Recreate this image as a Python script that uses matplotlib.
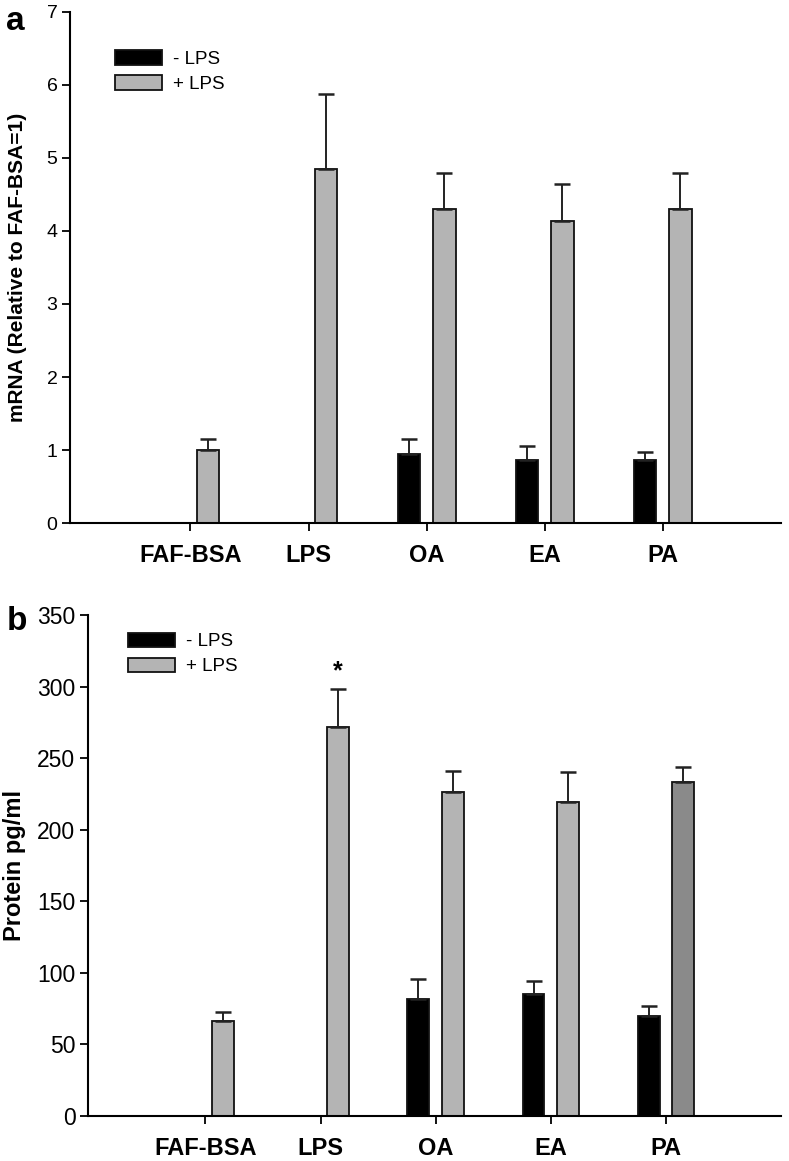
import numpy as np
import matplotlib.pyplot as plt

plt.rcParams['font.family'] = ['Liberation Sans', 'DejaVu Sans']

categories = ["FAF-BSA", "LPS", "OA", "EA", "PA"]

# panel a: mRNA relative to FAF-BSA
mrna_neg = [np.nan, np.nan, 0.95, 0.86, 0.86]
mrna_neg_err = [0, 0, 0.20, 0.19, 0.11]
mrna_pos = [1.00, 4.85, 4.30, 4.13, 4.30]
mrna_pos_err = [0.15, 1.02, 0.50, 0.52, 0.50]

# panel b: protein pg/ml
prot_neg = [np.nan, np.nan, 82, 85, 70]
prot_neg_err = [0, 0, 13.5, 9, 7]
prot_pos = [66.5, 272, 226, 219, 233]
prot_pos_err = [6, 26.5, 15, 21, 10.5]

gray = "#b4b4b4"
dark_gray = "#8a8a8a"
pos_colors = [gray, gray, gray, gray, dark_gray]


def draw_panel(ax, neg, neg_err, pos, pos_err, colors_pos, ylim, yticks, ylabel,
               ylabel_size, ylabel_pad, tick_size, legend_anchor):
    x = np.arange(len(categories))
    w = 0.19
    off = 0.15
    ax.bar(x - off, neg, w, color="black", edgecolor="#111111", linewidth=1.3,
           label="- LPS")
    ax.bar(x + off, pos, w, color=colors_pos, edgecolor="#111111", linewidth=1.3,
           label="+ LPS")
    ax.errorbar(x - off, neg, yerr=[np.zeros(len(x)), neg_err], fmt="none",
                ecolor="#222222", elinewidth=1.4, capsize=6, capthick=1.8)
    ax.errorbar(x + off, pos, yerr=[np.zeros(len(x)), pos_err], fmt="none",
                ecolor="#222222", elinewidth=1.4, capsize=6, capthick=1.8)

    ax.set_xlim(-1.02, 5.0)
    ax.set_ylim(*ylim)
    ax.set_yticks(yticks)
    ax.set_xticks(x)
    ax.set_xticklabels(categories, fontsize=17, fontweight="bold")
    ax.tick_params(axis="x", length=6, width=1.3, pad=9)
    ax.tick_params(axis="y", length=6, width=1.3, pad=3, labelsize=tick_size)
    for s in ["top", "right"]:
        ax.spines[s].set_visible(False)
    for s in ["left", "bottom"]:
        ax.spines[s].set_linewidth(1.5)
    ax.set_ylabel(ylabel, fontsize=ylabel_size, fontweight="bold",
                  labelpad=ylabel_pad)

    ax.legend(loc="upper left", bbox_to_anchor=legend_anchor, frameon=False,
              fontsize=13.5, handlelength=2.5, handleheight=0.8,
              handletextpad=0.6, labelspacing=0.4, borderpad=0,
              borderaxespad=0)


fig = plt.figure(figsize=(7.89, 11.61), dpi=100)
ax_a = fig.add_axes([0.0887, 0.5495, 0.901, 0.4402])
ax_b = fig.add_axes([0.1115, 0.0388, 0.8785, 0.4315])

draw_panel(ax_a, mrna_neg, mrna_neg_err, mrna_pos, mrna_pos_err, [gray] * 5,
           (0, 7), range(0, 8), "mRNA (Relative to FAF-BSA=1)", 15, 14, 14,
           (0.063, 0.925))
draw_panel(ax_b, prot_neg, prot_neg_err, prot_pos, prot_pos_err, pos_colors,
           (0, 350), range(0, 351, 50), "Protein pg/ml", 17, 8, 16.5,
           (0.058, 0.965))

# significance mark above LPS
ax_b.text(1 + 0.15, prot_pos[1] + prot_pos_err[1] + 4, "*", ha="center",
          va="bottom", fontsize=18, fontweight="bold")

fig.text(0.008, 0.995, "a", fontsize=24, fontweight="bold", va="top")
fig.text(0.008, 0.478, "b", fontsize=24, fontweight="bold", va="top")

fig.savefig("out.png", dpi=100)
